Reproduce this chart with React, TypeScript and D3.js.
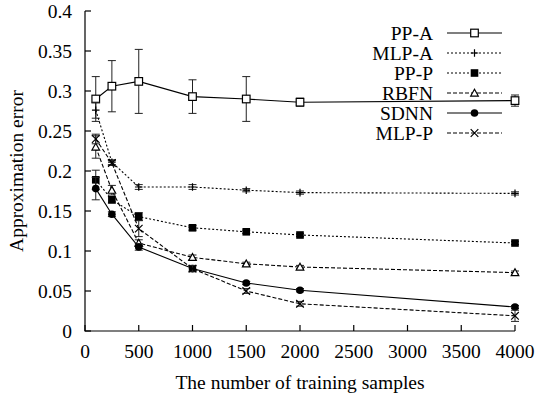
import React, { useEffect, useRef } from 'react'
import * as d3 from 'd3';

const W = 538;
const H = 397;

const samples = [100, 250, 500, 1000, 1500, 2000, 4000];
const xTicks = [0, 500, 1000, 1500, 2000, 2500, 3000, 3500, 4000];
const yTicks = [0, 0.05, 0.1, 0.15, 0.2, 0.25, 0.3, 0.35, 0.4];

const ppA = [0.290, 0.306, 0.312, 0.293, 0.290, 0.286, 0.288];
const ppAErr = [0.028, 0.032, 0.040, 0.021, 0.028, 0.005, 0.007];
const mlpA = [0.276, 0.211, 0.180, 0.180, 0.176, 0.173, 0.172];
const mlpAErr = [0.010, 0.003, 0.003, 0.003, 0.002, 0.002, 0.002];
const ppP = [0.189, 0.164, 0.143, 0.129, 0.124, 0.120, 0.110];
const ppPErr = [0.012, 0.004, 0.005, 0.003, 0.002, 0.002, 0.002];
const rbfn = [0.230, 0.176, 0.110, 0.092, 0.084, 0.080, 0.073];
const rbfnErr = [0.014, 0.006, 0.004, 0.003, 0.002, 0.002, 0.002];
const sdnn = [0.178, 0.146, 0.105, 0.078, 0.060, 0.051, 0.030];
const sdnnErr = [0.014, 0.003, 0.004, 0.003, 0.002, 0.002, 0.002];
const mlpP = [0.240, 0.210, 0.128, 0.078, 0.050, 0.034, 0.019];
const mlpPErr = [0.006, 0.003, 0.010, 0.004, 0.003, 0.003, 0.007];

const seriesNames = ['PP-A', 'MLP-A', 'PP-P', 'RBFN', 'SDNN', 'MLP-P'];

const App = () => {
  const svgRef = useRef<SVGSVGElement>(null);

  useEffect(() => {
    const series = [
      { name: seriesNames[0], values: ppA, err: ppAErr, dash: null, marker: 'square' },
      { name: seriesNames[1], values: mlpA, err: mlpAErr, dash: '2,2', marker: 'plus' },
      { name: seriesNames[2], values: ppP, err: ppPErr, dash: '2,2', marker: 'fsquare' },
      { name: seriesNames[3], values: rbfn, err: rbfnErr, dash: '4,2', marker: 'triangle' },
      { name: seriesNames[4], values: sdnn, err: sdnnErr, dash: null, marker: 'circle' },
      { name: seriesNames[5], values: mlpP, err: mlpPErr, dash: '4,2', marker: 'cross' },
    ];

    const x = d3.scaleLinear().domain([0, 4000]).range([85, 515]);
    const y = d3.scaleLinear().domain([0, 0.4]).range([331, 11]);

    const svg = d3.select(svgRef.current);
    svg.selectAll("*").remove();
    svg.style("font-family", "'Liberation Serif', 'DejaVu Serif', serif");

    // axes (gnuplot style: inward ticks, left + bottom only)
    const ax = svg.append("g").attr("stroke", "#000").attr("stroke-width", 1.2).attr("fill", "none");
    ax.append("path").attr("d", `M${x(0)},${y(0.4)}V${y(0)}H${x(4000)}`);
    yTicks.forEach(t => {
      ax.append("line").attr("x1", x(0)).attr("x2", x(0) + 6).attr("y1", y(t)).attr("y2", y(t));
    });
    xTicks.forEach(t => {
      ax.append("line").attr("x1", x(t)).attr("x2", x(t)).attr("y1", y(0)).attr("y2", y(0) - 6);
    });

    const labels = svg.append("g").attr("fill", "#000").style("font-size", "19.5px");
    yTicks.forEach(t => {
      labels.append("text").attr("x", x(0) - 13).attr("y", y(t)).attr("dy", "0.35em")
        .attr("text-anchor", "end").text(t === 0 ? "0" : String(+t.toFixed(2)));
    });
    xTicks.forEach(t => {
      labels.append("text").attr("x", x(t)).attr("y", y(0) + 27)
        .attr("text-anchor", "middle").text(t);
    });
    labels.append("text").attr("x", x(2000)).attr("y", 389)
      .attr("text-anchor", "middle").text("The number of training samples");
    labels.append("text").attr("transform", `translate(23,${y(0.2)}) rotate(-90)`)
      .attr("text-anchor", "middle").text("Approximation error");

    const drawMarker = (g, type, cx, cy) => {
      const s = 3.8;
      if (type === 'square') {
        g.append("rect").attr("x", cx - s).attr("y", cy - s).attr("width", 2 * s).attr("height", 2 * s)
          .attr("fill", "#fff").attr("stroke", "#000").attr("stroke-width", 1.2);
      } else if (type === 'fsquare') {
        g.append("rect").attr("x", cx - s).attr("y", cy - s).attr("width", 2 * s).attr("height", 2 * s)
          .attr("fill", "#000");
      } else if (type === 'circle') {
        g.append("circle").attr("cx", cx).attr("cy", cy).attr("r", s).attr("fill", "#000");
      } else if (type === 'triangle') {
        g.append("path").attr("d", `M${cx},${cy - s}L${cx + s},${cy + s * 0.8}L${cx - s},${cy + s * 0.8}Z`)
          .attr("fill", "#fff").attr("stroke", "#000").attr("stroke-width", 1.2);
      } else if (type === 'plus') {
        g.append("path").attr("d", `M${cx - s},${cy}H${cx + s}M${cx},${cy - s}V${cy + s}`)
          .attr("stroke", "#000").attr("stroke-width", 1.2);
      } else if (type === 'cross') {
        g.append("path").attr("d", `M${cx - s},${cy - s}L${cx + s},${cy + s}M${cx - s},${cy + s}L${cx + s},${cy - s}`)
          .attr("stroke", "#000").attr("stroke-width", 1.2);
      }
    };

    const line = d3.line<number>().x((d, i) => x(samples[i])).y(d => y(d));

    series.forEach((s, k) => {
      const g = svg.append("g");
      // error bars
      s.values.forEach((v, i) => {
        const e = s.err[i];
        const cx = x(samples[i]);
        g.append("path")
          .attr("d", `M${cx},${y(v + e)}V${y(v - e)}M${cx - 4},${y(v + e)}H${cx + 4}M${cx - 4},${y(v - e)}H${cx + 4}`)
          .attr("stroke", "#222").attr("stroke-width", 1).attr("fill", "none");
      });
      g.append("path").datum(s.values).attr("d", line)
        .attr("fill", "none").attr("stroke", "#000").attr("stroke-width", 1.1)
        .attr("stroke-dasharray", s.dash);
      s.values.forEach((v, i) => drawMarker(g, s.marker, x(samples[i]), y(v)));

      // legend
      const ly = 33 + k * 20;
      labels.append("text").attr("x", 433).attr("y", ly).attr("dy", "0.35em")
        .attr("text-anchor", "end").text(s.name);
      g.append("line").attr("x1", 447).attr("x2", 502).attr("y1", ly).attr("y2", ly)
        .attr("stroke", "#000").attr("stroke-width", 1.1).attr("stroke-dasharray", s.dash);
      drawMarker(g, s.marker, 474.5, ly);
    });
  }, []);

  return (
    <svg width={W} height={H} ref={svgRef}
      style={{ position: 'absolute', left: 0, top: 0, background: '#fff' }} />
  );
}

export default App;
